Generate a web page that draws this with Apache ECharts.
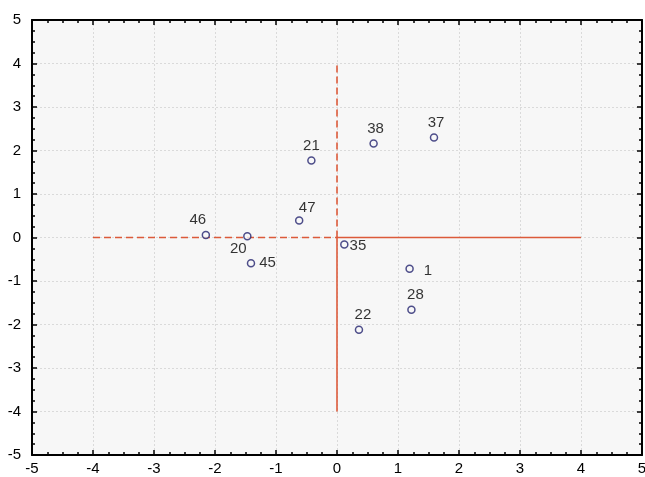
<!DOCTYPE html>
<html><head><meta charset="utf-8">
<script src="https://cdn.jsdelivr.net/npm/echarts@6/dist/echarts.min.js"></script>
<style>html,body{margin:0;padding:0;background:#fff}#c{width:645px;height:477px}</style>
</head><body><div id="c"></div>
<script>
var pointNames = ['46','20','45','47','21','38','37','35','1','28','22'];
var pointX = [-2.15,-1.47,-1.41,-0.62,-0.42,0.60,1.59,0.12,1.19,1.22,0.36];
var pointY = [0.06,0.03,-0.59,0.39,1.77,2.16,2.30,-0.16,-0.72,-1.66,-2.12];
var labelPlace = ['top','bottom','right','top','top','top','top','right','right','top','top'];
var labelShift = [[-8,0],[-9,-2],[0,0],[8,2],[0,0],[2,0],[2,0],[-3,1],[6,2],[4,0],[4,0]];

var hDashed = [[-4,0],[0,0]];
var hSolid  = [[0,0],[4,0]];
var vDashed = [[0,0],[0,4]];
var vSolid  = [[0,0],[0,-4]];

var tickValues = [-5,-4,-3,-2,-1,0,1,2,3,4,5];

var lineColor = '#dc5a3a';
var font = 'Liberation Sans, Arial, sans-serif';

var pts = pointNames.map(function(n,i){
  return {
    name:n, value:[pointX[i],pointY[i]],
    label:{position:labelPlace[i], offset:labelShift[i], distance: labelPlace[i]==='right'?4:3}
  };
});

function axisBase(extra){
  var a = {
    type:'value', min:tickValues[0], max:tickValues[tickValues.length-1], interval:1,
    axisLine:{show:true, onZero:false, lineStyle:{color:'#000', width:2}},
    axisTick:{show:true, inside:true, length:5, lineStyle:{color:'#000', width:1.5}},
    minorTick:{show:true, splitNumber:4, length:3, lineStyle:{color:'#000', width:1.5}},
    splitLine:{show:false},
    axisLabel:{show:false}
  };
  for (var k in extra) a[k]=extra[k];
  return a;
}

var chart = echarts.init(document.getElementById('c'), null, {renderer:'canvas'});
chart.setOption({
  animation:false,
  backgroundColor:'#ffffff',
  grid:{left:32, right:3, top:20, bottom:22, show:true, backgroundColor:'#f7f7f7', borderWidth:0,
        containLabel:false, outerBoundsMode:'none'},
  xAxis:[
    axisBase({position:'bottom',
      splitLine:{show:true, lineStyle:{color:'#dadada', type:[2,2], width:1}},
      axisLabel:{show:true, color:'#000', fontSize:15, fontFamily:font, margin:6}}),
    axisBase({position:'top'})
  ],
  yAxis:[
    axisBase({position:'left',
      splitLine:{show:true, lineStyle:{color:'#dadada', type:[2,2], width:1}},
      axisLabel:{show:true, color:'#000', fontSize:15, fontFamily:font, margin:11}}),
    axisBase({position:'right'})
  ],
  series:[
    {type:'line', data:hDashed, symbol:'none', lineStyle:{color:lineColor, width:1.6, type:[7,4]}, z:2},
    {type:'line', data:vDashed, symbol:'none', lineStyle:{color:lineColor, width:1.6, type:[7,4]}, z:2},
    {type:'line', data:hSolid, symbol:'none', lineStyle:{color:lineColor, width:1.6}, z:2},
    {type:'line', data:vSolid, symbol:'none', lineStyle:{color:lineColor, width:1.6}, z:2},
    {type:'scatter', data:pts, symbol:'circle', symbolSize:7, z:5,
      itemStyle:{color:'#f7f7f7', borderColor:'#23236e', borderWidth:1.5},
      label:{show:true, formatter:'{b}', color:'#000', fontSize:15, fontFamily:font}}
  ]
});
</script>
</body></html>
